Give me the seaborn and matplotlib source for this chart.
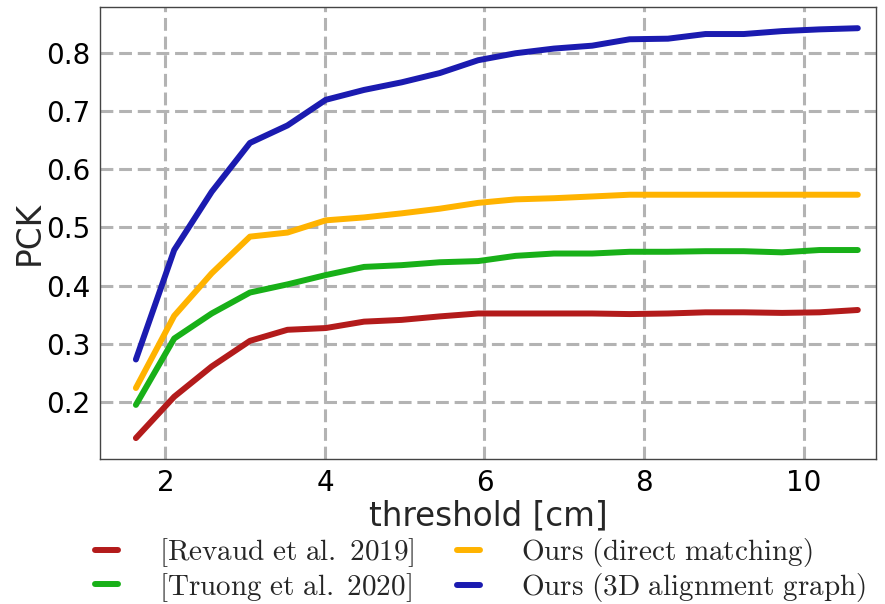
import numpy as np
import pandas as pd
import matplotlib
matplotlib.use("Agg")
import matplotlib.pyplot as plt
import seaborn as sns

# threshold values (cm)
threshold = [1.63, 2.11, 2.58, 3.06, 3.53, 4.01, 4.49, 4.96, 5.44, 5.92,
             6.39, 6.87, 7.35, 7.82, 8.30, 8.77, 9.25, 9.73, 10.20, 10.68]

revaud = [0.138, 0.209, 0.261, 0.305, 0.324, 0.327, 0.338, 0.341, 0.347, 0.352,
          0.352, 0.352, 0.352, 0.351, 0.352, 0.354, 0.354, 0.353, 0.354, 0.358]
truong = [0.195, 0.309, 0.352, 0.388, 0.402, 0.418, 0.432, 0.435, 0.440, 0.442,
          0.451, 0.455, 0.455, 0.458, 0.458, 0.459, 0.459, 0.457, 0.461, 0.461]
direct = [0.224, 0.348, 0.421, 0.484, 0.491, 0.512, 0.517, 0.524, 0.532, 0.542,
          0.548, 0.550, 0.553, 0.556, 0.556, 0.556, 0.556, 0.556, 0.556, 0.556]
graph3d = [0.273, 0.461, 0.561, 0.645, 0.675, 0.719, 0.736, 0.749, 0.765, 0.787,
           0.799, 0.807, 0.812, 0.823, 0.824, 0.832, 0.832, 0.837, 0.840, 0.842]

methods = [r'$\mathrm{[Revaud\ et\ al.\ 2019]}$',
           r'$\mathrm{[Truong\ et\ al.\ 2020]}$',
           r'$\mathrm{Ours\ (direct\ matching)}$',
           r'$\mathrm{Ours\ (3D\ alignment\ graph)}$']
colors = ['#b31b1b', '#18b018', '#ffb300', '#1b1bb0']

frames = []
for name, vals in zip(methods, [revaud, truong, direct, graph3d]):
    frames.append(pd.DataFrame({'threshold': threshold, 'PCK': vals, 'method': name}))
df = pd.concat(frames, ignore_index=True)

sns.set_style("white")
plt.rcParams['font.family'] = ['DejaVu Sans']
plt.rcParams['mathtext.fontset'] = 'cm'

fig = plt.figure(figsize=(8.85, 6.04), dpi=100)
ax = fig.add_axes([0.113, 0.24, 0.877, 0.748])

sns.lineplot(data=df, x='threshold', y='PCK', hue='method', hue_order=methods,
             palette=colors, linewidth=4.3, ax=ax, legend=False)

ax.set_xlim(1.18, 10.91)
ax.set_ylim(0.102, 0.878)
ax.set_xticks([2, 4, 6, 8, 10])
ax.set_yticks([0.2, 0.3, 0.4, 0.5, 0.6, 0.7, 0.8])
ax.grid(True, linestyle='--', color='#b3b3b3', linewidth=2.2, dashes=(4.2, 1.9))
ax.set_axisbelow(True)
ax.tick_params(labelsize=20, direction='out', length=3, width=1,
               colors='#444444', labelcolor='black', pad=4)
for s in ax.spines.values():
    s.set_color('#444444')
    s.set_linewidth(1.0)
ax.set_xlabel('threshold [cm]', fontsize=23.5, labelpad=2)
ax.set_ylabel('PCK', fontsize=23.5, labelpad=0)

handles = ax.get_lines()[:4]
fig.legend(handles, methods, loc='upper center', bbox_to_anchor=(0.543, 0.112),
           ncol=2, frameon=False, fontsize=21, handlelength=0.8,
           columnspacing=1.45, handletextpad=1.4, labelspacing=0.05,
           borderaxespad=0, borderpad=0)

fig.savefig('out.png', dpi=100)
